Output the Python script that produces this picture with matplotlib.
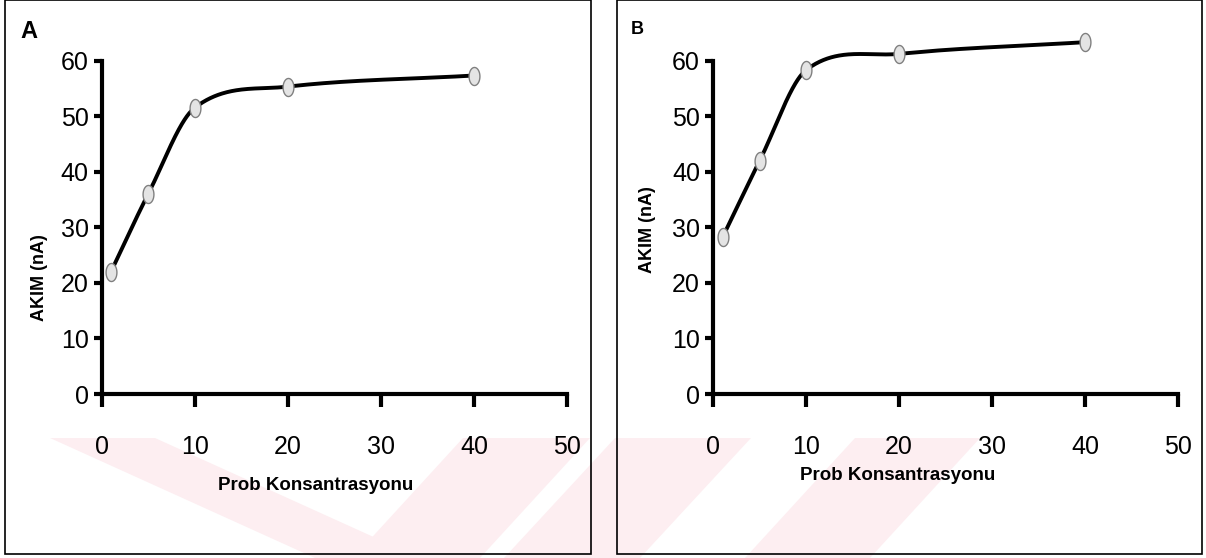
import numpy as np
import matplotlib
matplotlib.use("Agg")
import matplotlib.pyplot as plt
from matplotlib.path import Path
from matplotlib.patches import Rectangle, Polygon

# data
conc = [1, 5, 10, 20, 40]
current_a = [22.0, 36.0, 51.5, 55.3, 57.3]
current_b = [28.2, 42.0, 58.3, 61.2, 63.3]
x_ticks = [0, 10, 20, 30, 40, 50]
y_ticks = [0, 10, 20, 30, 40, 50, 60]
panel_labels = ["A", "B"]
xlabel = "Prob Konsantrasyonu"
ylabel = "AKIM (nA)"

W, H = 1206, 558
plt.rcParams["font.family"] = ["Liberation Sans", "DejaVu Sans"]


def px(x, y):
    # pixel position (top-left origin) -> figure fraction
    return x / W, 1 - y / H


def smooth(x, y, n=120):
    # cubic Hermite curve with finite-difference tangents (like a "smoothed line")
    x = np.asarray(x, float)
    y = np.asarray(y, float)
    m = np.empty_like(y)
    m[0] = (y[1] - y[0]) / (x[1] - x[0])
    m[-1] = (y[-1] - y[-2]) / (x[-1] - x[-2])
    m[1:-1] = (y[2:] - y[:-2]) / (x[2:] - x[:-2])
    xs, ys = [], []
    t = np.linspace(0, 1, n)
    for i in range(len(x) - 1):
        h = x[i + 1] - x[i]
        h00 = 2 * t**3 - 3 * t**2 + 1
        h10 = t**3 - 2 * t**2 + t
        h01 = -2 * t**3 + 3 * t**2
        h11 = t**3 - t**2
        xs.append(x[i] + t * h)
        ys.append(h00 * y[i] + h10 * h * m[i] + h01 * y[i + 1] + h11 * h * m[i + 1])
    return np.concatenate(xs), np.concatenate(ys)


theta = np.linspace(0, 2 * np.pi, 60)
oval = Path(np.column_stack([0.6 * np.cos(theta), np.sin(theta)]), closed=True)

fig = plt.figure(figsize=(W / 100, H / 100), dpi=100)

# faint pink watermark behind everything
wm = [
    [(50, 438), (155, 438), (420, 558), (315, 558)],
    [(463, 438), (590, 438), (480, 558), (353, 558)],
    [(615, 438), (751, 438), (640, 558), (504, 558)],
    [(855, 438), (980, 438), (870, 558), (745, 558)],
]
for poly in wm:
    fig.patches.append(Polygon([px(*p) for p in poly], closed=True,
                               transform=fig.transFigure, facecolor="#fdeef1",
                               edgecolor="none", zorder=-5))

# panel frames
for x0, x1 in [(5, 591), (617, 1202)]:
    fx0, fy0 = px(x0, 554)
    fig.patches.append(Rectangle((fx0, fy0), (x1 - x0) / W, 554 / H,
                                 transform=fig.transFigure, fill=False,
                                 edgecolor="black", linewidth=1.2, zorder=1))

axes_pos = [(101.7, 567.0), (713.3, 1178.0)]
series = [current_a, current_b]
letter_pos = [((29, 32), 17), ((637, 29), 13)]
ylabel_pos = [(40, 278), (648, 230)]
xlabel_pos = [(316, 485), (898, 475)]

for k in range(2):
    xl, xr = axes_pos[k]
    ax = fig.add_axes([xl / W, 1 - 394 / H, (xr - xl) / W, (394 - 60.5) / H])
    ax.set_facecolor("none")
    ax.set_xlim(0, 50)
    ax.set_ylim(0, 60)
    for s in ["top", "right"]:
        ax.spines[s].set_visible(False)
    for s in ["left", "bottom"]:
        ax.spines[s].set_linewidth(3)
    ax.set_xticks(x_ticks)
    ax.set_yticks(y_ticks)
    ax.tick_params(axis="x", direction="out", length=9.5, width=3, pad=20,
                   labelsize=18)
    ax.tick_params(axis="y", direction="out", length=5.5, width=3, pad=4,
                   labelsize=18)

    xs, ys = smooth(conc, series[k])
    ax.plot(xs, ys, color="black", linewidth=2.8, clip_on=False, zorder=3,
            solid_capstyle="round")
    ax.plot(conc, series[k], linestyle="none", marker=oval, markersize=13,
            markerfacecolor="#e4e4e4", markeredgecolor="#808080",
            markeredgewidth=1.0, clip_on=False, zorder=4)

    (lx, ly), lsize = letter_pos[k]
    fig.text(*px(lx, ly), panel_labels[k], fontsize=lsize, fontweight="bold",
             ha="center", va="center")
    fig.text(*px(*ylabel_pos[k]), ylabel, fontsize=13, fontweight="bold",
             rotation=90, ha="center", va="center")
    fig.text(*px(*xlabel_pos[k]), xlabel, fontsize=13.5, fontweight="bold",
             ha="center", va="center")

fig.savefig("out.png", dpi=100)
